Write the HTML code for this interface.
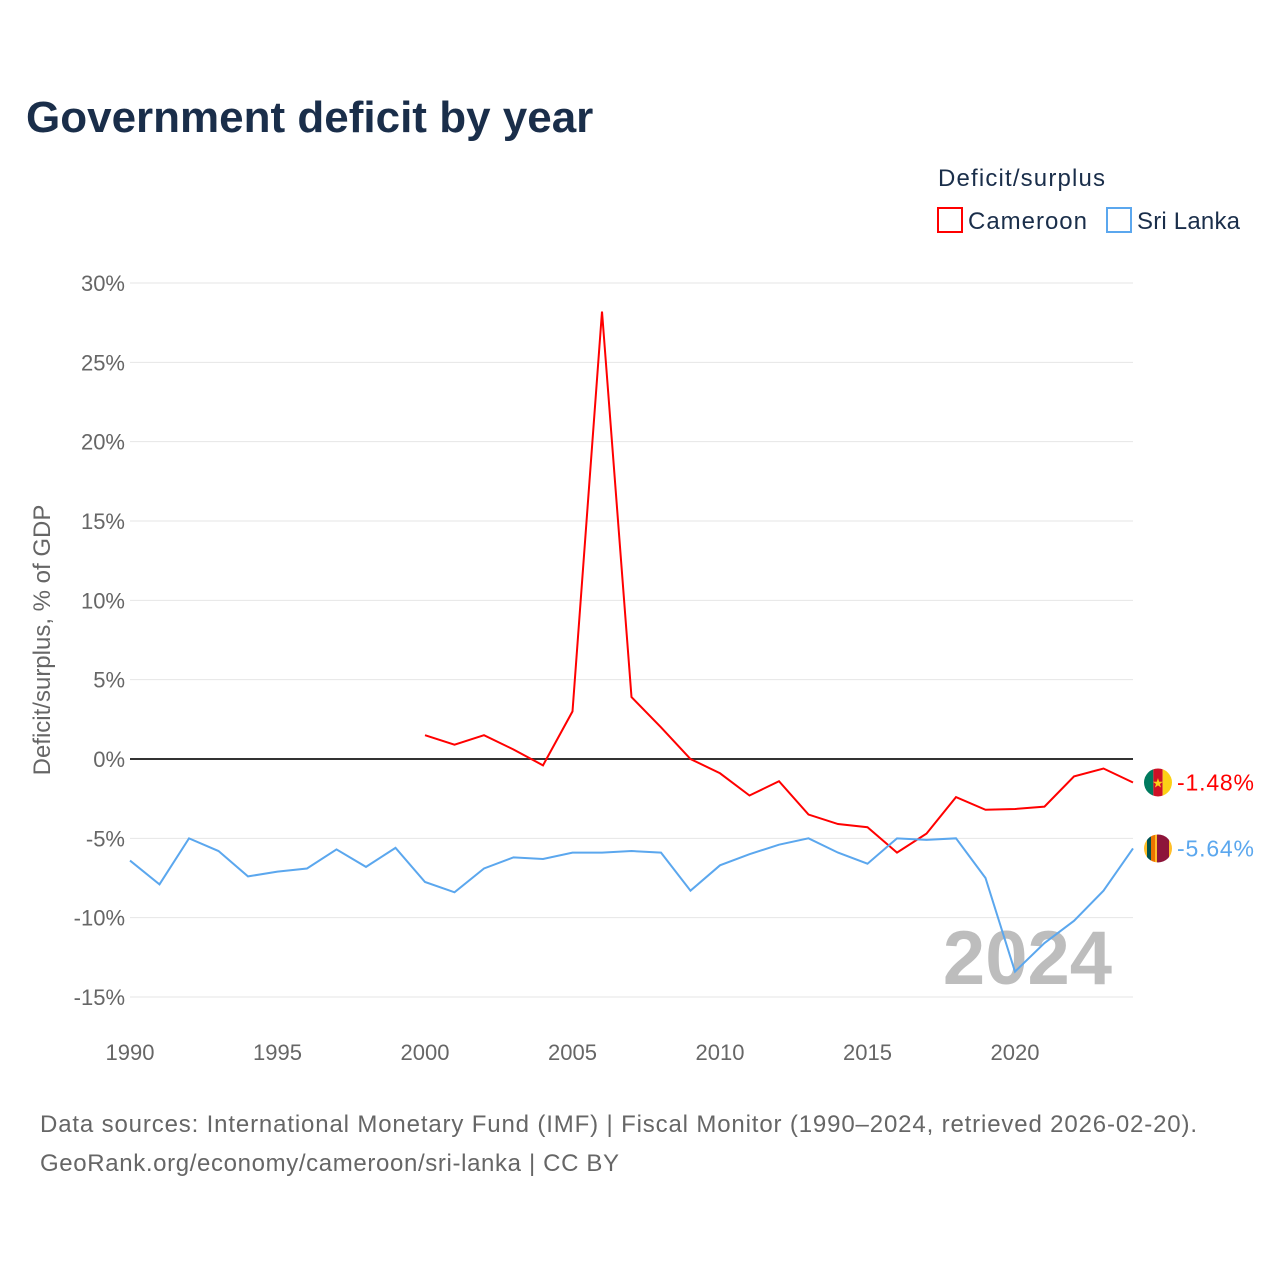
<!DOCTYPE html>
<html><head><meta charset="utf-8"><style>
body{margin:0;background:#fff;font-family:"Liberation Sans",sans-serif}
</style></head><body>
<svg width="1280" height="1280" xmlns="http://www.w3.org/2000/svg" font-family="Liberation Sans, sans-serif">
<defs>
<clipPath id="flagclip1"><circle cx="1158" cy="0" r="14"/></clipPath>
</defs>
<text x="26" y="132" font-size="44" font-weight="bold" fill="#1a2e4a">Government deficit by year</text>
<text x="938" y="186" font-size="24" fill="#1a2e4a" textLength="167">Deficit/surplus</text>
<g><rect x="938" y="208" width="24" height="24" fill="none" stroke="#f00" stroke-width="2"/><text x="968" y="229" font-size="24" fill="#1a2e4a" textLength="119">Cameroon</text></g>
<g><rect x="1107" y="208" width="24" height="24" fill="none" stroke="#5ba7ee" stroke-width="2"/><text x="1137" y="229" font-size="24" fill="#1a2e4a" textLength="103">Sri Lanka</text></g>
<g id="grid"></g>
<text x="1112" y="984" font-size="76" font-weight="bold" fill="#bdbdbd" text-anchor="end">2024</text>
<g id="series"></g>
<text transform="translate(50,640) rotate(-90)" font-size="24" fill="#666" text-anchor="middle">Deficit/surplus, % of GDP</text>
<text x="40" y="1132" font-size="24" fill="#666" textLength="1157">Data sources: International Monetary Fund (IMF) | Fiscal Monitor (1990–2024, retrieved 2026-02-20).</text>
<text x="40" y="1171" font-size="24" fill="#666" textLength="579">GeoRank.org/economy/cameroon/sri-lanka | CC BY</text>
</svg>
<script>
const years=[];for(let y=1990;y<=2024;y++)years.push(y);
const cameroonYears=[2000,2001,2002,2003,2004,2005,2006,2007,2008,2009,2010,2011,2012,2013,2014,2015,2016,2017,2018,2019,2020,2021,2022,2023,2024];
const cameroon=[1.5,0.9,1.5,0.6,-0.4,3.0,28.2,3.9,2.0,0,-0.9,-2.3,-1.4,-3.5,-4.1,-4.3,-5.9,-4.7,-2.4,-3.2,-3.15,-3.0,-1.1,-0.6,-1.48];
const sriLanka=[-6.4,-7.9,-5.0,-5.8,-7.4,-7.1,-6.9,-5.7,-6.8,-5.6,-7.75,-8.4,-6.9,-6.2,-6.3,-5.9,-5.9,-5.8,-5.9,-8.3,-6.7,-6.0,-5.4,-5.0,-5.9,-6.6,-5.0,-5.1,-5.0,-7.5,-13.4,-11.6,-10.2,-8.3,-5.64];
const yTicks=[30,25,20,15,10,5,0,-5,-10,-15];
const xTicks=[1990,1995,2000,2005,2010,2015,2020];
const X=y=>130+(y-1990)*(1133-130)/34;
const Y=v=>759-v*(759-283)/30;
const NS='http://www.w3.org/2000/svg';
function mk(t,a,p){const e=document.createElementNS(NS,t);for(const k in a)e.setAttribute(k,a[k]);p.appendChild(e);return e;}
const g=document.getElementById('grid'),s=document.getElementById('series'),defs=document.querySelector('defs');
yTicks.forEach(v=>{
 const l=mk('line',{x1:130,x2:1133,y1:Y(v),y2:Y(v),stroke:v===0?'#333':'#e6e6e6','stroke-width':v===0?2:1},g);
 
 
 const t=mk('text',{x:125,y:Y(v)+8,'font-size':22,fill:'#666','text-anchor':'end'},g);t.textContent=v+'%';
 
 
});
xTicks.forEach(v=>{
 const t=mk('text',{x:X(v),y:1060,'font-size':22,fill:'#666','text-anchor':'middle'},g);t.textContent=v;
 
 
});
function flag(ly,stripes,name,id){
 const cp=mk('clipPath',{id:id},defs);mk('circle',{cx:1158,cy:ly,r:14},cp);
 const fg=mk('g',{'clip-path':'url(#'+id+')'},s);
 
 
 let x=1144;stripes.forEach(st=>{mk('rect',{x:x,y:ly-14,width:st[1],height:28,fill:st[0]},fg);x+=st[1];});
 return fg;
}
function line(ys,vals,col,name){
 const p=mk('polyline',{points:ys.map((y,i)=>X(y)+','+Y(vals[i])).join(' '),fill:'none',stroke:col,'stroke-width':2},s);
 
 
 const ly=Y(vals[vals.length-1]);
 if(name==='cameroon-line'){
  flag(ly,[['#007a5e',9.33],['#ce1126',9.34],['#fcd116',9.33]],name,'fc');
  const st=mk('text',{x:1158,y:ly+5,'font-size':13,fill:'#fcd116','text-anchor':'middle'},s);st.textContent='★';
  
  
 } else {
  const fg=flag(ly,[['#ffbe29',3],['#00534e',4],['#eb7400',4],['#ffbe29',2],['#8d153a',12],['#ffbe29',3]],name,'fs');
 }
 const t=mk('text',{x:1177,y:ly+8,'font-size':23,fill:col,textLength:77},s);t.textContent=vals[vals.length-1].toFixed(2)+'%';
 
 
}
line(cameroonYears,cameroon,'#f00','cameroon-line');
line(years,sriLanka,'#5ba7ee','sri-lanka-line');
</script>
</body></html>
